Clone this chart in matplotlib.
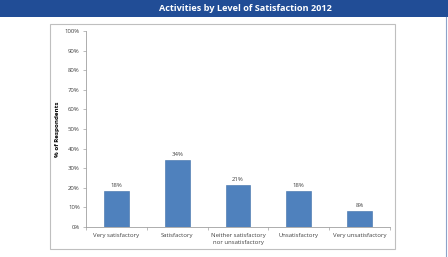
import matplotlib
matplotlib.use("Agg")
import matplotlib.pyplot as plt
from matplotlib.patches import Rectangle
from matplotlib.ticker import PercentFormatter

categories = ["Very satisfactory", "Satisfactory",
              "Neither satisfactory\nnor unsatisfactory", "Unsatisfactory",
              "Very unsatisfactory"]
values = [18.5, 34.3, 21.5, 18.2, 8.3]
labels = ["18%", "34%", "21%", "18%", "8%"]
yticks = list(range(0, 101, 10))

W, H = 448, 257
fig = plt.figure(figsize=(W / 100, H / 100), dpi=100)
plt.rcParams["font.family"] = ["Open Sans", "DejaVu Sans"]

# title bar
fig.patches.append(Rectangle((0, 1 - 17 / H), 1, 17 / H, transform=fig.transFigure,
                             facecolor="#214D96", edgecolor="none", zorder=0))
fig.text(245 / W, 1 - 8.5 / H, "Activities by Level of Satisfaction 2012", color="white",
         fontsize=6.6, fontweight="bold", ha="center", va="center")
# chart frame and right rule
fig.patches.append(Rectangle((50 / W, 1 - 249 / H), 345 / W, 225 / H, transform=fig.transFigure,
                             facecolor="white", edgecolor="#BFBFBF", lw=0.8, zorder=0))
fig.lines.append(plt.Line2D([446 / W, 446 / W], [0, 1 - 17 / H], transform=fig.transFigure,
                            color="#8DA3C9", lw=0.8))

ax = fig.add_axes([86 / W, 1 - 227 / H, 304 / W, 196 / H])
ax.set_zorder(2)
x = range(len(categories))
ax.bar(x, values, width=0.41, color="#4F81BD", edgecolor="#3F6FA8", lw=0.4)
for xi, v, lab in zip(x, values, labels):
    ax.text(xi, v + 1.5, lab, ha="center", va="bottom", fontsize=4.3, color="#404040")

ax.set_xlim(-0.5, len(categories) - 0.5)
ax.set_ylim(0, 100)
ax.set_yticks(yticks)
ax.yaxis.set_major_formatter(PercentFormatter(decimals=0))
ax.set_xticks(list(x))
ax.set_xticklabels(categories, fontsize=4.3, color="#404040", linespacing=1.5)
ax.set_xticks([i - 0.5 for i in range(len(categories) + 1)], minor=True)
ax.tick_params(axis="x", which="major", length=0, pad=4)
ax.tick_params(axis="x", which="minor", length=2.5, color="#A0A0A0", width=0.5)
ax.tick_params(axis="y", labelsize=4.3, labelcolor="#404040", length=2.5,
               color="#A0A0A0", width=0.5, pad=2)
ax.set_ylabel("% of Respondents", fontsize=4.5, fontweight="bold", labelpad=3)
for s in ("top", "right"):
    ax.spines[s].set_visible(False)
for s in ("left", "bottom"):
    ax.spines[s].set_color("#A0A0A0")
    ax.spines[s].set_linewidth(0.6)
ax.patch.set_alpha(0)

fig.savefig("out.png", dpi=100)
